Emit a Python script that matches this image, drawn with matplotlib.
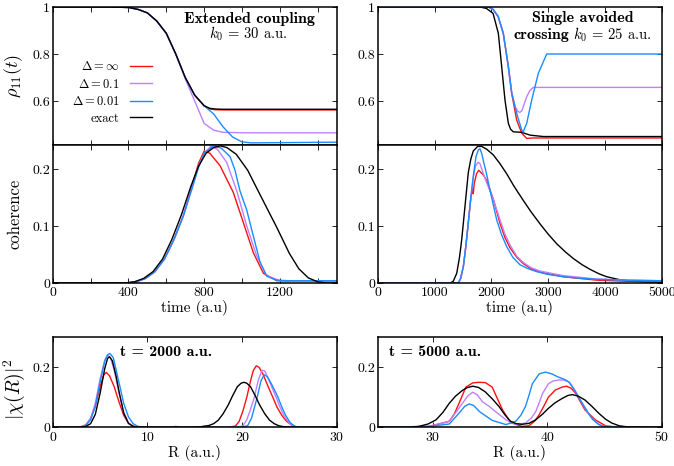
import matplotlib
matplotlib.use("Agg")
import matplotlib.pyplot as plt
from matplotlib.ticker import FixedLocator, MultipleLocator

plt.rcParams['font.family'] = 'serif'
plt.rcParams['font.serif'] = ['cmr10']
plt.rcParams['mathtext.fontset'] = 'cm'
plt.rcParams['axes.unicode_minus'] = False
plt.rcParams['axes.formatter.use_mathtext'] = True

# ---------------- colours / labels ----------------
series_labels = [r'$\Delta = \infty$', r'$\Delta = 0.1$', r'$\Delta = 0.01$', 'exact']
colors = ['#ff1010', '#bf80ff', '#1a8cff', '#000000']

# ---------------- top-left: rho_11(t), extended coupling ----------------
tl_t = [0, 300, 400, 450, 500, 550, 600, 650, 700, 750, 800, 830, 860, 900, 1000, 1500]
tl_exact = [1.0, 1.0, 0.998, 0.99, 0.975, 0.94, 0.888, 0.80, 0.70, 0.625, 0.58, 0.569, 0.566, 0.565, 0.565, 0.565]
tl_inf = [1.0, 1.0, 0.998, 0.99, 0.975, 0.94, 0.888, 0.80, 0.70, 0.625, 0.579, 0.566, 0.563, 0.562, 0.562, 0.562]
tl_t_p = [0, 300, 400, 450, 500, 550, 600, 650, 700, 750, 800, 850, 900, 1000, 1500]
tl_p1 = [1.0, 1.0, 0.998, 0.99, 0.975, 0.94, 0.888, 0.80, 0.695, 0.60, 0.505, 0.476, 0.467, 0.465, 0.465]
tl_t_b = [0, 300, 400, 450, 500, 550, 600, 650, 700, 750, 800, 850, 900, 950, 1000, 1050, 1500]
tl_p01 = [1.0, 1.0, 0.998, 0.99, 0.975, 0.94, 0.888, 0.80, 0.70, 0.625, 0.58, 0.545, 0.49, 0.447, 0.426, 0.422, 0.425]

# ---------------- top-right: rho_11(t), single avoided crossing ----------------
tr_t_exact = [0, 1800, 1914, 2031, 2124, 2183, 2241, 2300, 2340, 2388, 2535, 2681, 2916, 5000]
tr_exact = [1.0, 1.0, 0.994, 0.973, 0.888, 0.746, 0.604, 0.505, 0.48, 0.469, 0.467, 0.455, 0.449, 0.449]
tr_t_inf = [0, 1950, 2031, 2120, 2211, 2300, 2359, 2447, 2535, 2623, 2740, 5000]
tr_inf = [1.0, 1.0, 0.99, 0.96, 0.888, 0.746, 0.633, 0.519, 0.464, 0.441, 0.443, 0.443]
tr_t_p1 = [0, 1950, 2031, 2120, 2211, 2300, 2359, 2420, 2470, 2505, 2540, 2623, 2680, 2740, 5000]
tr_p1 = [1.0, 1.0, 0.99, 0.96, 0.888, 0.746, 0.64, 0.575, 0.555, 0.552, 0.56, 0.618, 0.645, 0.658, 0.658]
tr_t_p01 = [0, 1950, 2031, 2120, 2211, 2300, 2359, 2447, 2535, 2560, 2623, 2711, 2828, 2975, 5000]
tr_p01 = [1.0, 1.0, 0.99, 0.96, 0.888, 0.746, 0.633, 0.548, 0.477, 0.468, 0.505, 0.604, 0.718, 0.80, 0.80]

# ---------------- middle-left: coherence ----------------
ml_t_exact = [0, 380, 430, 480, 530, 580, 630, 680, 730, 770, 810, 850, 885, 920, 970, 1030, 1100, 1183, 1250, 1300, 1350, 1400, 1450, 1500]
ml_exact = [0, 0, 0.002, 0.008, 0.02, 0.042, 0.077, 0.12, 0.17, 0.205, 0.228, 0.238, 0.241, 0.238, 0.226, 0.198, 0.152, 0.098, 0.052, 0.025, 0.009, 0.002, 0, 0]
ml_t_inf = [0, 390, 440, 490, 540, 590, 640, 690, 740, 770, 800, 830, 884, 954, 1007, 1060, 1113, 1183, 1250, 1500]
ml_inf = [0, 0, 0.002, 0.008, 0.02, 0.042, 0.076, 0.118, 0.175, 0.21, 0.232, 0.228, 0.206, 0.159, 0.106, 0.053, 0.017, 0.004, 0.003, 0.003]
ml_t_p1 = [0, 390, 440, 490, 540, 590, 640, 690, 740, 770, 800, 835, 870, 919, 972, 1025, 1078, 1130, 1201, 1260, 1500]
ml_p1 = [0, 0, 0.002, 0.008, 0.02, 0.042, 0.076, 0.118, 0.172, 0.205, 0.228, 0.240, 0.235, 0.212, 0.162, 0.10, 0.047, 0.013, 0.004, 0.003, 0.003]
ml_t_p01 = [0, 390, 440, 490, 540, 590, 640, 690, 740, 770, 800, 848, 890, 937, 963, 989, 1025, 1060, 1095, 1130, 1183, 1250, 1500]
ml_p01 = [0, 0, 0.002, 0.008, 0.02, 0.042, 0.076, 0.118, 0.17, 0.203, 0.228, 0.241, 0.237, 0.222, 0.198, 0.162, 0.128, 0.082, 0.037, 0.012, 0.005, 0.004, 0.004]

# ---------------- middle-right: coherence ----------------
mr_t_exact = [0, 1273, 1330, 1391, 1440, 1479, 1537, 1595, 1640, 1683, 1760, 1831, 1920, 2036, 2150, 2271, 2400, 2564, 2700, 2857, 3000, 3151, 3300, 3444, 3600, 3738, 3900, 4032, 4250, 4442, 4700, 5000]
mr_exact = [0, 0, 0.003, 0.017, 0.045, 0.076, 0.135, 0.194, 0.218, 0.232, 0.240, 0.240, 0.235, 0.225, 0.21, 0.192, 0.17, 0.145, 0.125, 0.104, 0.086, 0.069, 0.055, 0.043, 0.032, 0.024, 0.016, 0.011, 0.006, 0.0035, 0.002, 0.001]
mr_t_p01 = [0, 1420, 1460, 1508, 1550, 1595, 1640, 1683, 1730, 1772, 1800, 1830, 1860, 1920, 1977, 2036, 2095, 2180, 2271, 2380, 2505, 2650, 2799, 3000, 3268, 3600, 3855, 4400, 5000]
mr_p01 = [0, 0, 0.008, 0.029, 0.063, 0.106, 0.15, 0.188, 0.222, 0.234, 0.236, 0.228, 0.215, 0.19, 0.163, 0.137, 0.111, 0.085, 0.064, 0.045, 0.032, 0.025, 0.020, 0.015, 0.011, 0.008, 0.0065, 0.005, 0.004]
mr_t_p1 = [0, 1420, 1460, 1508, 1550, 1595, 1640, 1683, 1720, 1765, 1800, 1850, 1919, 2036, 2153, 2240, 2329, 2450, 2564, 2700, 2857, 3268, 3855, 4400, 5000]
mr_p1 = [0, 0, 0.008, 0.029, 0.063, 0.106, 0.15, 0.185, 0.205, 0.212, 0.21, 0.195, 0.176, 0.147, 0.111, 0.086, 0.067, 0.047, 0.036, 0.027, 0.021, 0.013, 0.007, 0.005, 0.004]
mr_t_inf = [0, 1420, 1460, 1508, 1550, 1595, 1640, 1675, 1683, 1700, 1740, 1780, 1810, 1860, 1919, 2036, 2153, 2240, 2329, 2450, 2564, 2700, 2857, 3268, 3855, 4400, 5000]
mr_inf = [0, 0, 0.008, 0.029, 0.063, 0.106, 0.15, 0.166, 0.157, 0.175, 0.192, 0.198, 0.195, 0.19, 0.18, 0.147, 0.105, 0.08, 0.062, 0.045, 0.034, 0.025, 0.019, 0.011, 0.005, 0.003, 0.003]

# ---------------- bottom-left: |chi(R)|^2 at t = 2000 ----------------
bl_R_exact = [0, 2.5, 3.0, 3.5, 4.0, 4.5, 5.0, 5.5, 5.8, 6.0, 6.3, 6.7, 7.0, 7.5, 8.0, 8.5, 9.0, 10, 14, 15.5, 16.5, 17, 17.5, 18, 18.55, 19, 19.5, 19.9, 20.2, 20.5, 20.9, 21.4, 21.85, 22.4, 22.9, 23.4, 23.9, 24.4, 25.5, 30]
bl_exact = [0, 0, 0.0006, 0.003, 0.012, 0.043, 0.112, 0.196, 0.230, 0.235, 0.222, 0.170, 0.12, 0.048, 0.013, 0.003, 0.0005, 0, 0, 0.001, 0.006, 0.012, 0.024, 0.045, 0.075, 0.105, 0.135, 0.147, 0.150, 0.147, 0.135, 0.105, 0.075, 0.045, 0.024, 0.012, 0.005, 0.002, 0, 0]
bl_R_inf = [0, 2.5, 3.0, 3.5, 4.0, 4.5, 5.0, 5.4, 5.65, 6.0, 6.5, 7.0, 7.5, 8.0, 8.5, 9.0, 10, 15, 16, 17, 18.5, 19.3, 19.7, 20.1, 20.5, 20.9, 21.2, 21.5, 21.8, 22.2, 22.7, 23.25, 23.7, 24.2, 24.7, 25.4, 26, 30]
bl_inf = [0, 0, 0.002, 0.008, 0.028, 0.07, 0.135, 0.175, 0.183, 0.172, 0.135, 0.085, 0.04, 0.014, 0.004, 0.001, 0, 0, 0.003, 0.001, 0, 0.004, 0.02, 0.055, 0.10, 0.155, 0.19, 0.205, 0.20, 0.178, 0.14, 0.10, 0.067, 0.04, 0.02, 0.004, 0, 0]
bl_R_p1 = [0, 2.5, 3.0, 3.5, 4.0, 4.5, 5.0, 5.5, 5.8, 6.1, 6.5, 7.0, 7.5, 8.0, 8.5, 9.0, 10, 19.5, 20.1, 20.5, 20.9, 21.3, 21.7, 22.1, 22.4, 22.8, 23.2, 23.6, 24.0, 24.5, 25.1, 25.7, 26.5, 30]
bl_p1 = [0, 0, 0.002, 0.008, 0.03, 0.08, 0.16, 0.225, 0.24, 0.232, 0.19, 0.115, 0.05, 0.015, 0.003, 0.0005, 0, 0, 0.005, 0.025, 0.06, 0.10, 0.155, 0.19, 0.188, 0.16, 0.13, 0.10, 0.068, 0.035, 0.01, 0.001, 0, 0]
bl_R_p01 = [0, 2.5, 3.0, 3.5, 4.0, 4.5, 5.0, 5.5, 5.8, 6.05, 6.4, 7.0, 7.5, 8.0, 8.5, 9.0, 9.5, 10, 12.3, 13.0, 13.7, 20.0, 20.6, 21.0, 21.3, 21.6, 22.0, 22.35, 22.7, 23.1, 23.5, 23.8, 24.2, 24.6, 25.1, 25.6, 26.2, 30]
bl_p01 = [0, 0, 0.001, 0.006, 0.025, 0.07, 0.15, 0.22, 0.242, 0.246, 0.232, 0.15, 0.08, 0.035, 0.012, 0.003, 0.0005, 0, 0, 0.003, 0, 0, 0.006, 0.03, 0.065, 0.10, 0.155, 0.175, 0.168, 0.145, 0.12, 0.10, 0.068, 0.04, 0.015, 0.003, 0, 0]

# ---------------- bottom-right: |chi(R)|^2 at t = 5000 ----------------
br_R_exact = [25, 28.0, 28.8, 29.6, 30.3, 30.9, 31.45, 32.0, 32.6, 33.0, 33.5, 34.0, 34.6, 35.2, 35.8, 36.3, 36.8, 37.3, 37.8, 38.4, 39.0, 39.6, 40.1, 40.7, 41.3, 41.8, 42.2, 42.7, 43.3, 43.9, 44.5, 45.1, 45.65, 46.3, 47.1, 50]
br_exact = [0, 0.0, 0.003, 0.011, 0.025, 0.05, 0.08, 0.104, 0.123, 0.132, 0.137, 0.133, 0.118, 0.095, 0.069, 0.042, 0.02, 0.012, 0.01, 0.013, 0.025, 0.044, 0.063, 0.082, 0.096, 0.106, 0.109, 0.104, 0.091, 0.07, 0.047, 0.027, 0.014, 0.005, 0.001, 0]
br_R_inf = [25, 29.7, 31.45, 31.9, 32.3, 32.9, 33.5, 34.0, 34.6, 35.2, 35.6, 36.1, 36.8, 37.8, 38.4, 38.9, 39.3, 39.7, 40.1, 40.7, 41.3, 41.7, 42.1, 42.5, 42.9, 43.3, 44.2, 45.1, 46.0, 50]
br_inf = [0, 0.003, 0.02, 0.045, 0.08, 0.134, 0.148, 0.150, 0.149, 0.134, 0.1, 0.058, 0.016, 0.003, 0.005, 0.02, 0.042, 0.07, 0.10, 0.124, 0.134, 0.137, 0.13, 0.113, 0.085, 0.058, 0.025, 0.005, 0.001, 0]
br_R_p1 = [25, 29.7, 31.45, 32.0, 32.6, 33.1, 33.5, 33.9, 34.35, 35.0, 35.5, 36.4, 37.25, 38.1, 38.6, 39.0, 39.3, 39.6, 40.1, 40.5, 41.0, 41.5, 41.9, 42.5, 42.9, 43.3, 43.8, 44.2, 44.8, 50]
br_p1 = [0, 0.003, 0.02, 0.048, 0.08, 0.106, 0.117, 0.108, 0.085, 0.068, 0.052, 0.025, 0.009, 0.014, 0.03, 0.052, 0.082, 0.113, 0.145, 0.154, 0.158, 0.157, 0.151, 0.118, 0.09, 0.063, 0.035, 0.02, 0.003, 0]
br_R_p01 = [25, 29.7, 31.45, 32.3, 32.8, 33.2, 33.6, 34.1, 35.2, 36.4, 37.25, 37.7, 38.1, 38.4, 38.7, 39.3, 39.85, 40.4, 41.0, 41.5, 41.9, 42.3, 42.75, 43.2, 43.6, 44.0, 44.5, 45.1, 50]
br_p01 = [0, 0.003, 0.011, 0.047, 0.07, 0.078, 0.072, 0.052, 0.023, 0.009, 0.02, 0.04, 0.069, 0.105, 0.145, 0.178, 0.184, 0.178, 0.167, 0.16, 0.151, 0.13, 0.10, 0.072, 0.047, 0.025, 0.009, 0.001, 0]

# tick labels
rho_ticks = [0.6, 0.8, 1.0]
rho_ticklabels = ['0.6', '0.8', '1']
coh_ticks = [0, 0.1, 0.2]
coh_ticklabels = ['0', '0.1', '0.2']
chi_ticks = [0, 0.2]
chi_ticklabels = ['0', '0.2']
tleft_ticks = [0, 400, 800, 1200]
tright_ticks = [0, 1000, 2000, 3000, 4000, 5000]
Rleft_ticks = [0, 10, 20, 30]
Rright_ticks = [30, 40, 50]

# ---------------- figure ----------------
W, H = 674, 466
fig = plt.figure(figsize=(W / 100, H / 100), dpi=100)

def px_axes(x0, x1, ytop, ybot):
    return fig.add_axes([x0 / W, 1 - ybot / H, (x1 - x0) / W, (ybot - ytop) / H])

xl0, xl1 = 52.7, 336.7
xr0, xr1 = 377.7, 661.7
ax_tl = px_axes(xl0, xl1, 7, 145)
ax_tr = px_axes(xr0, xr1, 7, 145)
ax_ml = px_axes(xl0, xl1, 145, 283)
ax_mr = px_axes(xr0, xr1, 145, 283)
ax_bl = px_axes(xl0, xl1, 337.3, 427.3)
ax_br = px_axes(xr0, xr1, 337.3, 427.3)

lw = 1.0

def style(ax):
    for s in ax.spines.values():
        s.set_linewidth(1.1)
    ax.tick_params(which='both', direction='in', top=True, right=True,
                   length=3.5, width=0.6, labelsize=10, pad=3)
    ax.tick_params(axis='y', pad=2)

# top-left
h_inf, = ax_tl.plot(tl_t, tl_inf, color=colors[0], lw=lw)
h_p1, = ax_tl.plot(tl_t_p, tl_p1, color=colors[1], lw=lw)
h_p01, = ax_tl.plot(tl_t_b, tl_p01, color=colors[2], lw=lw)
h_ex, = ax_tl.plot(tl_t, tl_exact, color=colors[3], lw=lw)
ax_tl.set_xlim(0, 1500)
ax_tl.set_ylim(0.413, 1.0)

# top-right
ax_tr.plot(tr_t_inf, tr_inf, color=colors[0], lw=lw)
ax_tr.plot(tr_t_p1, tr_p1, color=colors[1], lw=lw)
ax_tr.plot(tr_t_exact, tr_exact, color=colors[3], lw=lw)
ax_tr.plot(tr_t_p01, tr_p01, color=colors[2], lw=lw)
ax_tr.set_xlim(0, 5000)
ax_tr.set_ylim(0.413, 1.0)

for ax in (ax_tl, ax_tr):
    ax.set_yticks(rho_ticks)
    ax.set_yticklabels(rho_ticklabels)

# middle-left
ax_ml.plot(ml_t_inf, ml_inf, color=colors[0], lw=lw)
ax_ml.plot(ml_t_p1, ml_p1, color=colors[1], lw=lw)
ax_ml.plot(ml_t_p01, ml_p01, color=colors[2], lw=lw)
ax_ml.plot(ml_t_exact, ml_exact, color=colors[3], lw=lw)
ax_ml.set_xlim(0, 1500)
ax_ml.set_ylim(0, 0.2425)

# middle-right
ax_mr.plot(mr_t_exact, mr_exact, color=colors[3], lw=lw)
ax_mr.plot(mr_t_inf, mr_inf, color=colors[0], lw=lw)
ax_mr.plot(mr_t_p1, mr_p1, color=colors[1], lw=lw)
ax_mr.plot(mr_t_p01, mr_p01, color=colors[2], lw=lw)
ax_mr.set_xlim(0, 5000)
ax_mr.set_ylim(0, 0.2425)

for ax in (ax_ml, ax_mr):
    ax.set_yticks(coh_ticks)
    ax.set_yticklabels(coh_ticklabels)

for ax in (ax_tl, ax_ml):
    ax.xaxis.set_major_locator(FixedLocator(tleft_ticks))
    ax.xaxis.set_minor_locator(MultipleLocator(200))
for ax in (ax_tr, ax_mr):
    ax.xaxis.set_major_locator(FixedLocator(tright_ticks))
ax_ml.set_xticklabels([str(v) for v in tleft_ticks])
ax_mr.set_xticklabels([str(v) for v in tright_ticks])
ax_tl.set_xticklabels([])
ax_tr.set_xticklabels([])

# bottom-left
ax_bl.plot(bl_R_inf, bl_inf, color=colors[0], lw=lw)
ax_bl.plot(bl_R_p1, bl_p1, color=colors[1], lw=lw)
ax_bl.plot(bl_R_p01, bl_p01, color=colors[2], lw=lw)
ax_bl.plot(bl_R_exact, bl_exact, color=colors[3], lw=lw)
ax_bl.set_xlim(0, 30)
ax_bl.set_ylim(0, 0.3)
ax_bl.set_xticks(Rleft_ticks)
ax_bl.set_xticklabels([str(v) for v in Rleft_ticks])

# bottom-right
ax_br.plot(br_R_inf, br_inf, color=colors[0], lw=lw)
ax_br.plot(br_R_p1, br_p1, color=colors[1], lw=lw)
ax_br.plot(br_R_p01, br_p01, color=colors[2], lw=lw)
ax_br.plot(br_R_exact, br_exact, color=colors[3], lw=lw)
ax_br.set_xlim(25.2, 50)
ax_br.set_ylim(0, 0.3)
ax_br.set_xticks(Rright_ticks)
ax_br.set_xticklabels([str(v) for v in Rright_ticks])

for ax in (ax_bl, ax_br):
    ax.set_yticks(chi_ticks)
    ax.set_yticklabels(chi_ticklabels)

for ax in (ax_tl, ax_tr, ax_ml, ax_mr, ax_bl, ax_br):
    style(ax)

# labels (x = right edge of the rotated label, axes fraction)
ax_tl.set_ylabel(r'$\rho_{11}(t)$', fontsize=13)
ax_tl.yaxis.set_label_coords(-0.098, 0.5)
ax_ml.set_ylabel('coherence', fontsize=12)
ax_ml.yaxis.set_label_coords(-0.105, 0.5)
ax_bl.set_ylabel(r'$|\chi(R)|^2$', fontsize=14)
ax_bl.yaxis.set_label_coords(-0.092, 0.42)

for ax in (ax_ml, ax_mr):
    ax.set_xlabel('time (a.u)', fontsize=11)
    ax.xaxis.set_label_coords(0.5, -0.18)
    ax.xaxis.label.set_verticalalignment('center')
for ax in (ax_bl, ax_br):
    ax.set_xlabel('R (a.u.)', fontsize=11)
    ax.xaxis.set_label_coords(0.5, -0.285)
    ax.xaxis.label.set_verticalalignment('center')

# annotations
bold_fs = 11.5
ax_tl.text(0.692, 0.915, 'Extended coupling', transform=ax_tl.transAxes,
           fontfamily='cmb10', fontsize=bold_fs, ha='center', va='center')
ax_tl.text(0.689, 0.805, r'$k_0$ = 30 a.u.', transform=ax_tl.transAxes,
           fontsize=10.5, ha='center', va='center')
ax_tr.text(0.721, 0.918, 'Single avoided', transform=ax_tr.transAxes,
           fontfamily='cmb10', fontsize=bold_fs, ha='center', va='center')
ax_tr.text(0.674, 0.797, 'crossing', transform=ax_tr.transAxes,
           fontfamily='cmb10', fontsize=bold_fs, ha='right', va='center')
ax_tr.text(0.688, 0.797, r'$k_0$ = 25 a.u.', transform=ax_tr.transAxes,
           fontsize=10.5, ha='left', va='center')
ax_bl.text(0.237, 0.837, 't = 2000 a.u.', transform=ax_bl.transAxes,
           fontfamily='cmb10', fontsize=bold_fs, ha='left', va='center')
ax_br.text(0.04, 0.837, 't = 5000 a.u.', transform=ax_br.transAxes,
           fontfamily='cmb10', fontsize=bold_fs, ha='left', va='center')

leg = ax_tl.legend([h_inf, h_p1, h_p01, h_ex], series_labels, loc='center right',
                   bbox_to_anchor=(0.35, 0.38), frameon=False, markerfirst=False,
                   fontsize=9, handlelength=1.8, handletextpad=0.8,
                   labelspacing=0.35, borderpad=0, borderaxespad=0)

fig.savefig('out.png', dpi=100)
